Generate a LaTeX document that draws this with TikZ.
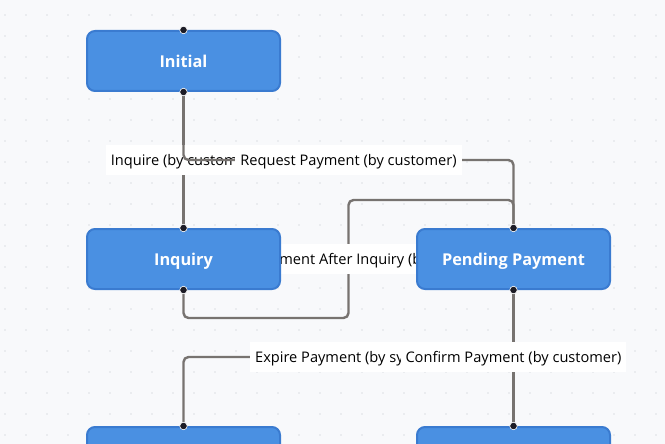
\documentclass[tikz,border=0pt]{standalone}
\usepackage{fontspec}
\setmainfont{Open Sans}
\usetikzlibrary{positioning}
\definecolor{canvas}{RGB}{248,249,251}
\definecolor{griddot}{RGB}{220,223,228}
\definecolor{statefill}{RGB}{74,144,226}
\definecolor{stateline}{RGB}{58,123,208}
\definecolor{edgegray}{RGB}{119,115,112}
\definecolor{handledot}{RGB}{28,28,38}
\pgfdeclarelayer{bg}
\pgfdeclarelayer{edges}
\pgfsetlayers{bg,edges,main}

\begin{document}
\begin{tikzpicture}[x=1pt,y=-1pt]
                \tikzstyle{state}=[draw=stateline, line width=2pt, fill=statefill, rounded corners=8pt, minimum width=193pt, minimum height=60pt, inner sep=0pt, text height=14pt, text depth=1pt, text=white, font=\fontsize{16.3}{19}\selectfont\bfseries]
                \tikzstyle{wire}=[draw=edgegray, line width=2.4pt, rounded corners=5pt]
                \tikzstyle{edgelabel}=[fill=white, inner xsep=5pt, inner ysep=0pt, minimum height=30pt, text height=12.5pt, text depth=1pt, text=black, font=\fontsize{14.6}{17}\selectfont]
                \tikzstyle{handle}=[circle, fill=handledot, draw=white, line width=0.6pt, inner sep=0pt, minimum size=7.5pt]
                \useasboundingbox (0,0) rectangle (665,444);
                \clip (0,0) rectangle (665,444);
                % canvas and dot grid
                \begin{pgfonlayer}{bg}
                \fill[canvas] (0,0) rectangle (665,444);
                \foreach \i in {0,...,31}
                    \foreach \j in {0,...,20}
                        \fill[griddot] (5+21*\i,15+21*\j) circle (0.8);
                \end{pgfonlayer}
                % states
                \node[state] (initial) at (183.5,61) {Initial};
                \node[state] (inquiry) at (183.5,259) {Inquiry};
                \node[state] (pending) at (513.5,259) {Pending Payment};
                \node[state] (expired) at (183.5,457) {};
                \node[state] (paid) at (513.5,457) {};
                \foreach \s in {initial,inquiry,pending,expired,paid} {
                    \node[handle] at (\s.north) {};
                    \node[handle] at (\s.south) {};
                }
                % transitions
                \begin{pgfonlayer}{edges}
                \draw[wire] (initial.south) -- (inquiry.north);
                \node[edgelabel] (inquirelbl) at (183.5,160) {Inquire (by customer)};
                \coordinate (reqmid) at (348.5,160);
                \draw[wire] (initial.south) |- (reqmid) -| (pending.north);
                \node[edgelabel] (requestlbl) at (reqmid) {Request Payment (by customer)};
                \coordinate (aftmid) at (348.5,259);
                \draw[wire] (inquiry.south) -- ++(0,28) -| (aftmid) -- ++(0,-59) -| (pending.north);
                \node[edgelabel] (afterlbl) at (aftmid) {Request Payment After Inquiry (by customer)};
                \coordinate (expmid) at (348.5,357);
                \draw[wire] (pending.south) |- (expmid) -| (expired.north);
                \node[edgelabel] (expirelbl) at (expmid) {Expire Payment (by system)};
                \draw[wire] (pending.south) -- (paid.north);
                \node[edgelabel] (confirmlbl) at (513.5,357) {Confirm Payment (by customer)};
                \end{pgfonlayer}
\end{tikzpicture}
\end{document}
